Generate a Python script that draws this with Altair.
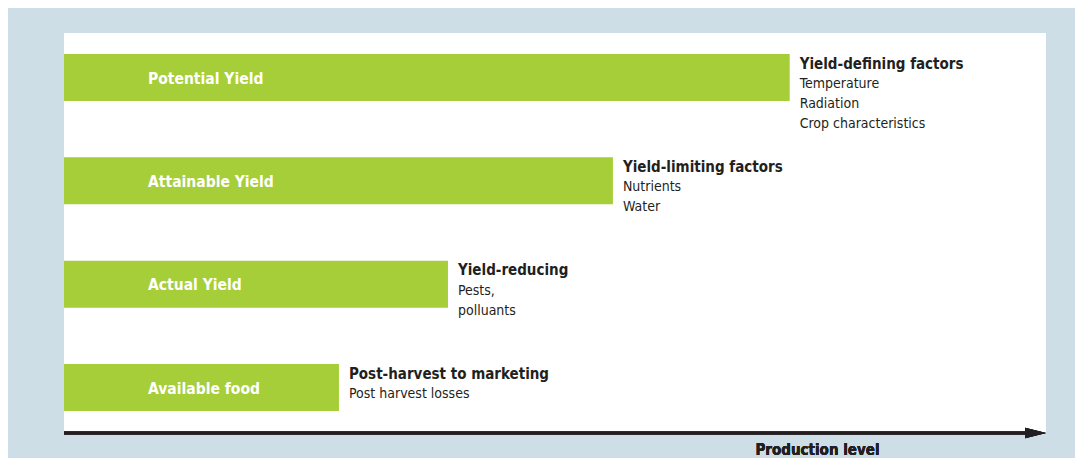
import altair as alt
import pandas as pd

# ---- data ----
levels = ["Potential Yield", "Attainable Yield", "Actual Yield", "Available food"]
production = [73.9, 55.9, 39.1, 28.0]
factor_titles = ["Yield-defining factors", "Yield-limiting factors",
                 "Yield-reducing", "Post-harvest to marketing"]
factor_details = [["Temperature", "Radiation", "Crop characteristics"],
                  ["Nutrients", "Water"],
                  ["Pests,", "polluants"],
                  ["Post harvest losses"]]
axis_label = "Production level"

bars = pd.DataFrame({"level": levels, "production": production, "title": factor_titles})
rows = []
for lv, p, det in zip(levels, production, factor_details):
    for i, t in enumerate(det):
        rows.append({"level": lv, "production": p, "line": i, "text": t})
details = pd.DataFrame(rows)

FONT = "Liberation Sans Narrow, DejaVu Sans Condensed, Liberation Sans, sans-serif"
GREEN = "#a6ce39"
DARK = "#231f20"
BLUE = "#cddee6"

W, H = 982, 400

xs = alt.Scale(domain=[0, 100], range=[0, W], nice=False, zero=False)
ys = alt.Scale(type="point", domain=levels, range=[44.5, 354.5], padding=0)
Y = alt.Y("level:N", scale=ys, axis=None, sort=levels)

base = alt.Chart(bars)

bar = base.mark_bar(height=47, color=GREEN).encode(
    x=alt.X("production:Q", scale=xs, axis=None), x2=alt.datum(0), y=Y)

bar_label = base.mark_text(align="left", baseline="middle", dy=1,
                           font=FONT, fontWeight="bold", fontSize=15.5,
                           color="white").encode(
    x=alt.value(84), y=Y, text="level:N")

title_txt = base.mark_text(align="left", baseline="middle", dx=10, dy=-14,
                           font=FONT, fontWeight="bold", fontSize=15,
                           color=DARK).encode(
    x=alt.X("production:Q", scale=xs, axis=None), y=Y, text="title:N")

detail_layers = []
for i in range(3):
    detail_layers.append(
        alt.Chart(details).transform_filter(alt.datum.line == i)
        .mark_text(align="left", baseline="middle", dx=10, dy=6.5 + 20 * i,
                   font=FONT, fontSize=14, color=DARK)
        .encode(x=alt.X("production:Q", scale=xs, axis=None), y=Y, text="text:N"))

arrow_line = base.mark_rule(color=DARK, strokeWidth=3).encode(
    x=alt.datum(0, scale=xs), x2=alt.datum(98), y=alt.value(H))
arrow_head = base.mark_point(shape="M-2,-0.5L0,0L-2,0.5Z", size=441, filled=True,
                             color=DARK, opacity=1).encode(
    x=alt.datum(100, scale=xs), y=alt.value(H))
axis_txt = base.mark_text(align="center", baseline="middle", font=FONT,
                          fontWeight="bold", fontSize=15, color=DARK).encode(
    x=alt.value(753.5), y=alt.value(416.5), text=alt.value(axis_label))

chart = alt.layer(bar, bar_label, title_txt, *detail_layers,
                  arrow_line, arrow_head, axis_txt).properties(
    width=W, height=H,
    autosize=alt.AutoSizeParams(type="none"),
    padding={"left": 56, "top": 25, "right": 29, "bottom": 25},
    background=BLUE,
).configure_view(fill="white", stroke=None)

chart.save("out.html", embed_options={"renderer": "svg", "actions": False})
